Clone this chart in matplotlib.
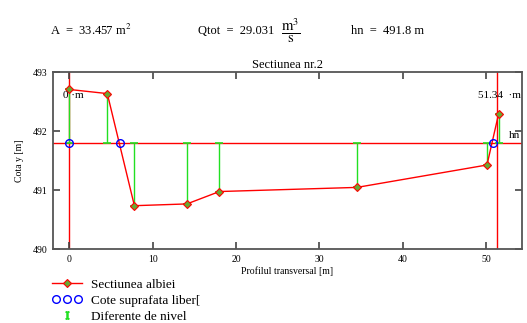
import numpy as np
import matplotlib.pyplot as plt
from matplotlib.lines import Line2D
from matplotlib.legend_handler import HandlerLine2D

plt.rcParams['font.family'] = ['Liberation Serif', 'DejaVu Serif']
plt.rcParams['mathtext.fontset'] = 'stix'

# Cross-section points (distance [m], elevation [m])
x_sect = [0.0, 4.55, 7.8, 14.1, 18.0, 34.5, 50.1, 51.5]
y_sect = [492.71, 492.64, 490.74, 490.77, 490.98, 491.05, 491.43, 492.30]

# Water level and intersections with the bed
hn = 491.8
x_free = [0.0, 6.1, 50.8]
x_right = 51.34

fig = plt.figure(figsize=(5.27, 3.23), dpi=100)
ax = fig.add_axes([0.100, 0.228, 0.8905, 0.548])

red = '#ff0000'
green = '#22e022'
blue = '#0000ff'

# marker lines
ax.axhline(hn, color=red, lw=1.0, zorder=1)
ax.axvline(0, color=red, lw=1.0, zorder=1)
ax.axvline(x_right, color=red, lw=1.0, zorder=1)

# level differences
diffs = np.array(y_sect) - hn
ax.errorbar(x_sect, [hn] * len(x_sect), yerr=[np.where(diffs < 0, -diffs, 0), np.where(diffs > 0, diffs, 0)],
            fmt='none', ecolor=green, elinewidth=1.0, capsize=3, capthick=1.2, zorder=2)

sect, = ax.plot(x_sect, y_sect, color=red, lw=1.0, marker='D', ms=4,
                mfc='#66aa33', mec=red, mew=0.8, zorder=3)
free, = ax.plot(x_free, [hn] * len(x_free), ls='none', marker='o', ms=5.5,
                mfc='none', mec=blue, mew=1.0, zorder=4)
eb_handle = Line2D([], [], ls='none', marker=r'$\mathrm{I}$', ms=5, color=green)

ax.text(0.5, 492.6, '0 ·m', ha='center', va='center', fontsize=8)
ax.text(51.6, 492.6, '51.34  ·m', ha='center', va='center', fontsize=8)
ax.text(53.4, 491.93, 'hn', ha='center', va='center', fontsize=8)

ax.set_xlim(-2.0, 54.3)
ax.set_ylim(490, 493)
ax.set_xticks([0, 10, 20, 30, 40, 50])
ax.set_yticks([490, 491, 492, 493])
ax.tick_params(direction='in', length=5, width=1.2, color='#444444', labelsize=7,
               top=True, right=True, pad=4)
for s in ax.spines.values():
    s.set_color('#555555')
    s.set_linewidth(1.3)

ax.set_xlabel('Profilul transversal [m]', fontsize=7, labelpad=2)
ax.set_ylabel('Cota y [m]', fontsize=7, labelpad=6)
ax.set_title('Sectiunea nr.2', fontsize=9, pad=3)

fig.text(0.095, 0.905, r'A  =  33.457 m$^2$', fontsize=9, va='center')
fig.text(0.376, 0.905, 'Qtot  =  29.031', fontsize=9, va='center')
fig.text(0.533, 0.905, r'$\dfrac{\mathrm{m}^3}{\mathrm{s}}$', fontsize=10.5, va='center')
fig.text(0.666, 0.905, 'hn  =  491.8 m', fontsize=9, va='center')

fig.legend([sect, free, eb_handle],
           ['Sectiunea albiei', 'Cote suprafata liber[', 'Diferente de nivel'],
           loc='upper left', bbox_to_anchor=(0.098, 0.137), frameon=False,
           fontsize=9.5, handlelength=2.3, handletextpad=0.7, labelspacing=0.28,
           borderaxespad=0, borderpad=0,
           handler_map={free: HandlerLine2D(numpoints=3)})

fig.savefig('out.png', dpi=100)
